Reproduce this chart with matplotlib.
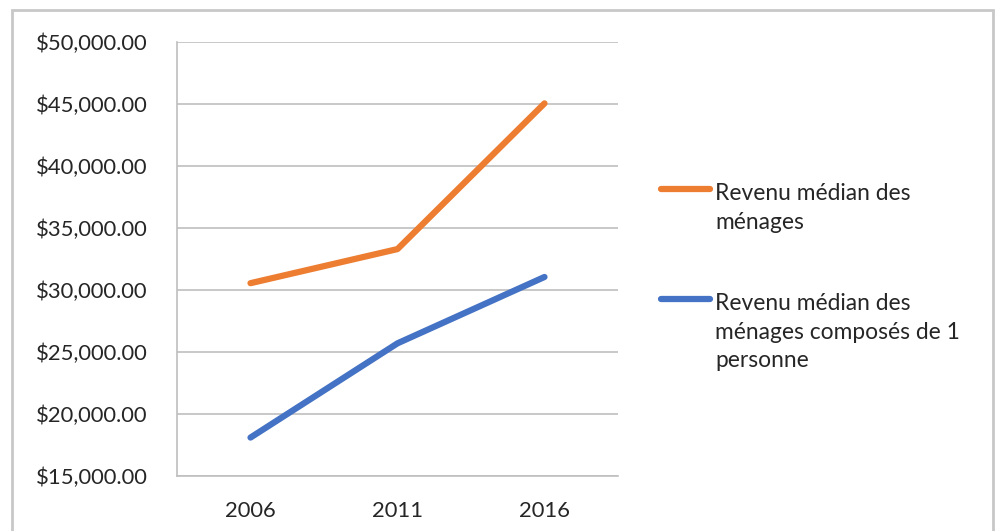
import matplotlib.pyplot as plt
from matplotlib.patches import Rectangle
from matplotlib.lines import Line2D
from matplotlib.ticker import FuncFormatter

# median income, by census year
years = ["2006", "2011", "2016"]
menages = [30550, 33300, 45050]
menages_1_personne = [18100, 25700, 31050]

labels = ["Revenu médian des\nménages",
          "Revenu médian des\nménages composés de 1\npersonne"]
colors = ["#ED7D31", "#4472C4"]

plt.rcParams['font.family'] = ['Lato', 'DejaVu Sans']
txt_color = '#262626'

W, H = 996, 531
fig = plt.figure(figsize=(W / 100, H / 100), dpi=100)
ax = fig.add_axes([177 / W, 1 - 476 / H, 441 / W, 434 / H])

x = range(len(years))
ax.plot(x, menages, color=colors[0], lw=4.5, solid_capstyle='round')
ax.plot(x, menages_1_personne, color=colors[1], lw=4.5, solid_capstyle='round')

ax.set_xlim(-0.5, len(years) - 0.5)
ax.set_ylim(15000, 50000)
ax.set_yticks(range(15000, 50001, 5000))
ax.yaxis.set_major_formatter(FuncFormatter(lambda v, p: "${:,.2f}".format(v)))
ax.set_xticks(list(x))
ax.set_xticklabels(years)
ax.grid(axis='y', color='#BFBFBF', lw=1.2)
ax.set_axisbelow(True)

for s in ['top', 'right']:
    ax.spines[s].set_visible(False)
for s in ['left', 'bottom']:
    ax.spines[s].set_color('#BFBFBF')
    ax.spines[s].set_linewidth(1.2)

ax.tick_params(axis='both', length=0, labelsize=15.8, labelcolor=txt_color)
ax.tick_params(axis='y', pad=21)
ax.tick_params(axis='x', pad=18)

# legend drawn at the right of the plot
leg_y = [189, 299]
for lab, c, yy in zip(labels, colors, leg_y):
    fig.add_artist(Line2D([661 / W, 710 / W], [1 - yy / H, 1 - yy / H],
                          color=c, lw=4.5, solid_capstyle='round'))
    fig.text(715 / W, 1 - (yy - 6) / H, lab, fontsize=16.4, color=txt_color,
             va='top', ha='left', linespacing=1.45)

# chart border
fig.add_artist(Rectangle((12 / W, -0.1), (993 - 12) / W, 1.1 - 10 / H,
                         transform=fig.transFigure, fill=False,
                         edgecolor='#C8C8C8', lw=2))

fig.savefig("out.png", dpi=100)
